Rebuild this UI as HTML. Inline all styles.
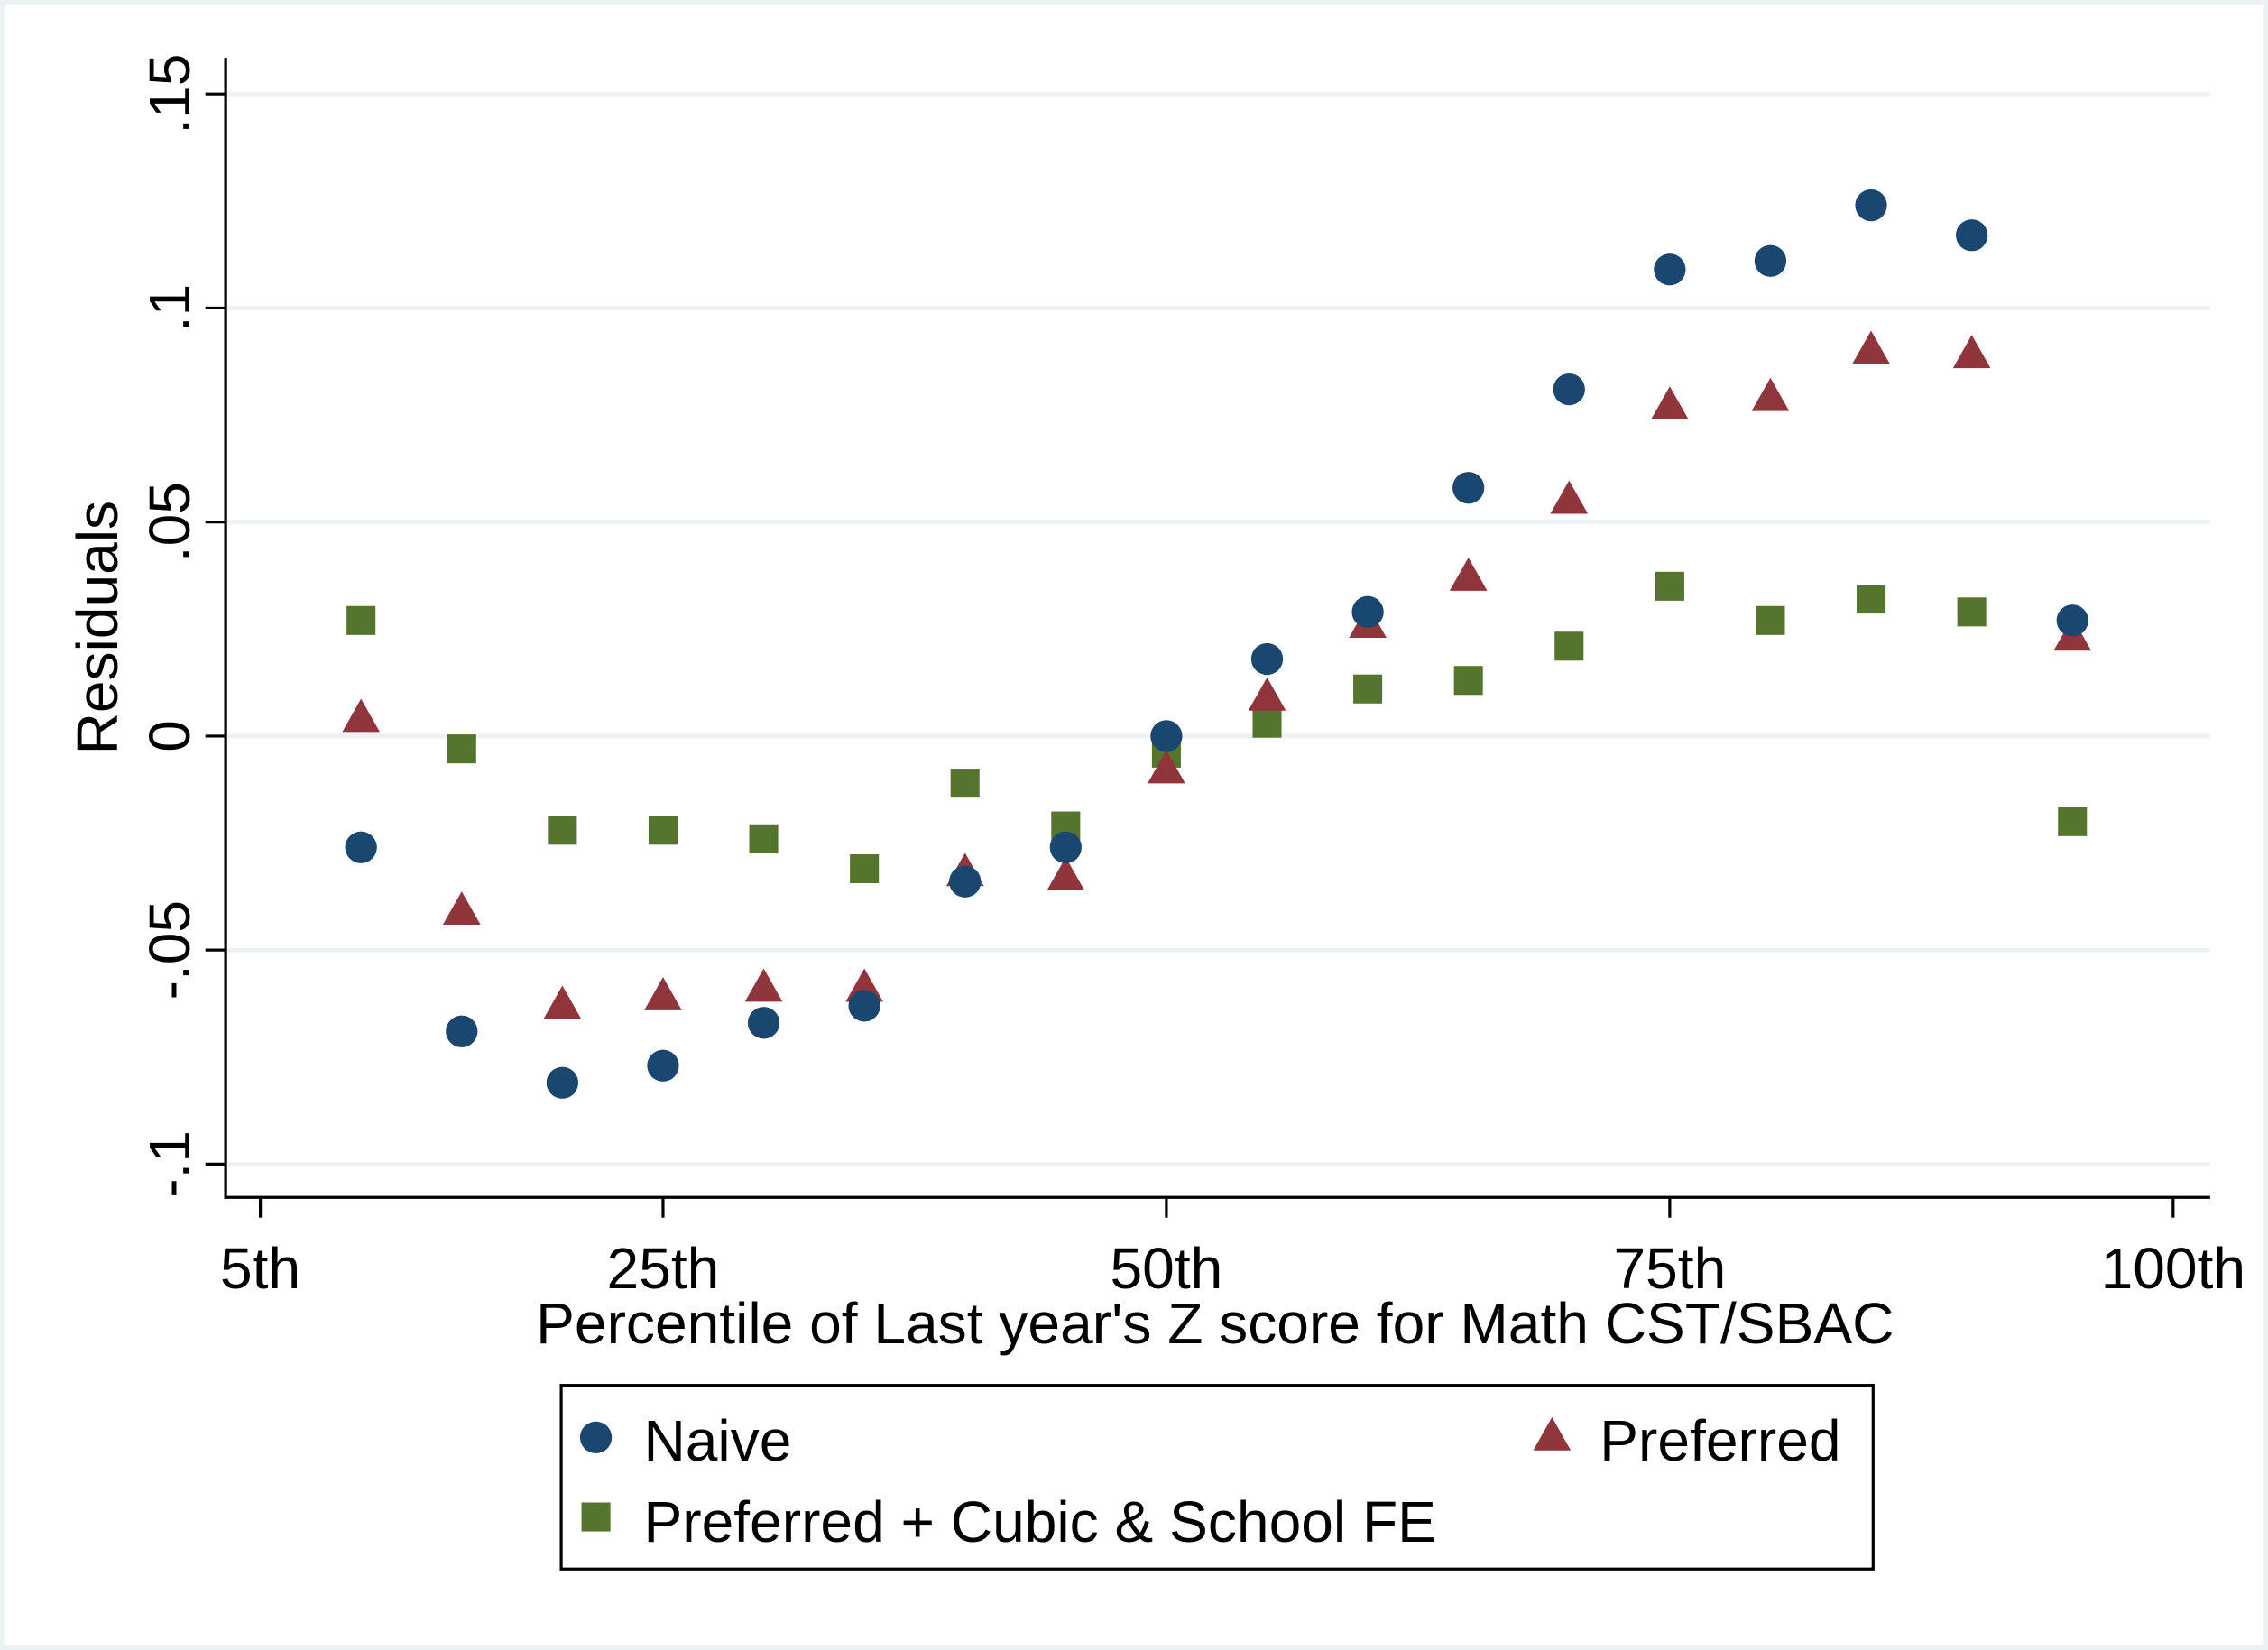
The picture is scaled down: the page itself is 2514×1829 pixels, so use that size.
<!DOCTYPE html>
<html><head><meta charset="utf-8"><style>html,body{margin:0;padding:0;background:#fff}svg{display:block}text{font-family:"Liberation Sans",Arial,sans-serif;fill:#000}</style></head>
<body>
<svg id="chart" width="2514" height="1829" viewBox="0 0 1568 1141" preserveAspectRatio="none" xmlns="http://www.w3.org/2000/svg">
<rect x="0" y="0" width="1568" height="1141" fill="#eaf2f3"/>
<rect x="3" y="3" width="1562" height="1135" fill="#fff"/>
<g id="grid"></g>
<g id="axes"></g>
<g id="marks"></g>
<text x="840" y="929" font-size="40" text-anchor="middle">Percentile of Last year's Z score for Math CST/SBAC</text>
<text transform="translate(81,434) rotate(-90)" font-size="40" text-anchor="middle">Residuals</text>
<g>
<rect x="388" y="958" width="907" height="127" fill="#fff" stroke="#000" stroke-width="2"/>
<g><circle cx="412" cy="994" r="11" fill="#1a476f"/><text x="445" y="1010" font-size="40">Naive</text></g>
<g><polygon points="1073,980 1086,1003 1060,1003" fill="#90353b"/><text x="1106" y="1010" font-size="40">Preferred</text></g>
<g><rect x="402" y="1039" width="20" height="20" fill="#55752f"/><text x="445" y="1066" font-size="40">Preferred + Cubic &amp; School FE</text></g>
</g>
</svg>
<script>
const categories=[10,15,20,25,30,35,40,45,50,55,60,65,70,75,80,85,90,95];
const naive=[-0.026,-0.069,-0.081,-0.077,-0.067,-0.063,-0.034,-0.026,0.000,0.018,0.029,0.058,0.081,0.109,0.111,0.124,0.117,0.027];
const preferred=[0.005,-0.040,-0.062,-0.060,-0.058,-0.058,-0.031,-0.032,-0.007,0.010,0.027,0.038,0.056,0.078,0.080,0.091,0.090,0.024];
const cubic=[0.027,-0.003,-0.022,-0.022,-0.024,-0.031,-0.011,-0.021,-0.004,0.003,0.011,0.013,0.021,0.035,0.027,0.032,0.029,-0.020];
const yTicks=[-0.1,-0.05,0,0.05,0.1,0.15];
const yTickLabels=["-.1","-.05","0",".05",".1",".15"];
const xTicks=[5,25,50,75,100];
const xTickLabels=["5th","25th","50th","75th","100th"];
const NS="http://www.w3.org/2000/svg";
const X=v=>180+(v-5)*13.92;
const Y=v=>509-v*2960;
function mk(tag,attrs,parent){const e=document.createElementNS(NS,tag);for(const k in attrs)e.setAttribute(k,attrs[k]);parent.appendChild(e);return e;}
const grid=document.getElementById('grid'),axes=document.getElementById('axes'),marks=document.getElementById('marks');
yTicks.forEach((t,i)=>{
 const g=mk('line',{x1:156,x2:1528,y1:Y(t),y2:Y(t),stroke:'#eaf2f3','stroke-width':3},grid);
 
 
 const tk=mk('line',{x1:142,x2:156,y1:Y(t),y2:Y(t),stroke:'#000','stroke-width':2},axes);
 
 
 const tx=mk('text',{transform:`translate(131,${Y(t)}) rotate(-90)`,'font-size':40,'text-anchor':'middle'},axes);
 tx.textContent=yTickLabels[i];
 
 
});
const ya=mk('line',{x1:156,x2:156,y1:40,y2:829,stroke:'#000','stroke-width':2},axes);


const xa=mk('line',{x1:155,x2:1528,y1:828,y2:828,stroke:'#000','stroke-width':2},axes);


xTicks.forEach((t,i)=>{
 const tk=mk('line',{x1:X(t),x2:X(t),y1:828,y2:842,stroke:'#000','stroke-width':2},axes);
 
 
 const tx=mk('text',{x:X(t),y:891,'font-size':40,'text-anchor':'middle'},axes);
 tx.textContent=xTickLabels[i];
 
 
});
categories.forEach((c,i)=>{
 const x=X(c);
 const s=mk('rect',{x:x-10,y:Y(cubic[i])-10,width:20,height:20,fill:'#55752f'},marks);
 
 
});
categories.forEach((c,i)=>{
 const x=X(c),y=Y(preferred[i])+3;
 const p=mk('polygon',{points:`${x},${y-14} ${x+13},${y+9} ${x-13},${y+9}`,fill:'#90353b'},marks);
 
 
});
categories.forEach((c,i)=>{
 const p=mk('circle',{cx:X(c),cy:Y(naive[i]),r:11,fill:'#1a476f'},marks);
 
 
});
</script>
</body></html>
